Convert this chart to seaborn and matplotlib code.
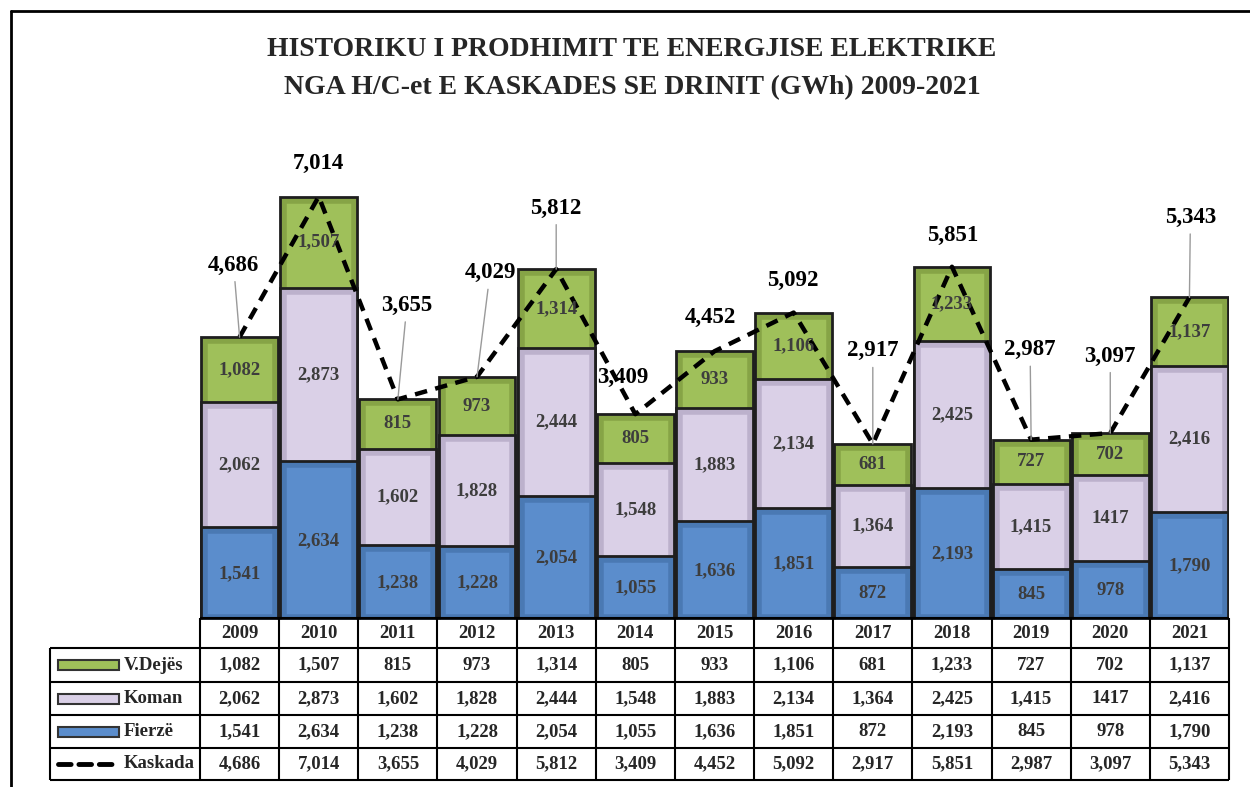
import matplotlib
matplotlib.use("Agg")
import matplotlib.pyplot as plt
from matplotlib import transforms
from matplotlib.lines import Line2D
from matplotlib.patches import Rectangle
import numpy as np
import pandas as pd
import seaborn as sns

# data (GWh)
years = ["2009", "2010", "2011", "2012", "2013", "2014", "2015",
         "2016", "2017", "2018", "2019", "2020", "2021"]
v_dejes = [1082, 1507, 815, 973, 1314, 805, 933, 1106, 681, 1233, 727, 702, 1137]
koman = [2062, 2873, 1602, 1828, 2444, 1548, 1883, 2134, 1364, 2425, 1415, 1417, 2416]
fierze = [1541, 2634, 1238, 1228, 2054, 1055, 1636, 1851, 872, 2193, 845, 978, 1790]
kaskada = [4686, 7014, 3655, 4029, 5812, 3409, 4452, 5092, 2917, 5851, 2987, 3097, 5343]

# labels as printed (2020 Koman has no thousands separator in the source)
v_dejes_lbl = [f"{v:,}" for v in v_dejes]
koman_lbl = [f"{v:,}" for v in koman]
koman_lbl[11] = "1417"
fierze_lbl = [f"{v:,}" for v in fierze]
kaskada_lbl = [f"{v:,}" for v in kaskada]

# where the total labels sit relative to their point (pixels)
total_offsets = [(-6, 72), (0, 33), (9, 94), (13, 104), (0, 61), (-13, 37), (-4, 34),
                 (-1, 32), (0, 93), (1, 31), (-1, 90), (0, 77), (1, 80)]

GREEN, LILAC, BLUE = "#9fc05a", "#dad0e7", "#5b8dcc"
BANDS = {GREEN: "#86a446", LILAC: "#bcb1cc", BLUE: "#4a79b3"}
EDGE = "#1e1e1e"

sns.set_style("white")
plt.rcParams["font.family"] = ["Liberation Serif", "DejaVu Serif"]
plt.rcParams["font.weight"] = "bold"

W, H = 1250, 787
fig = plt.figure(figsize=(W / 100, H / 100), dpi=100)
ax = fig.add_axes([200 / W, 1 - 620 / H, 1029 / W, 483 / H])


def fx(px):
    return px / W


def fy(py):
    return 1 - py / H


df = pd.DataFrame({"year": years, "fierze": fierze, "koman": koman, "v_dejes": v_dejes})
df["lower2"] = df["fierze"] + df["koman"]
df["top"] = df["lower2"] + df["v_dejes"]

# stacked bars drawn back to front (cumulative heights overlap)
for col, color in [("top", GREEN), ("lower2", LILAC), ("fierze", BLUE)]:
    n0 = len(ax.patches)
    sns.barplot(data=df, x="year", y=col, color=color, saturation=1, width=0.97,
                edgecolor=BANDS[color], linewidth=9, ax=ax)
    for p in ax.patches[n0:]:
        p.set_clip_path(p)
    sns.barplot(data=df, x="year", y=col, color=EDGE, fill=False, width=0.97,
                linewidth=2, ax=ax)

# segment labels
for i in range(len(years)):
    for base, val, lbl in [(0, fierze[i], fierze_lbl[i]),
                           (fierze[i], koman[i], koman_lbl[i]),
                           (fierze[i] + koman[i], v_dejes[i], v_dejes_lbl[i])]:
        ax.text(i, base + val / 2, lbl, ha="center", va="center",
                fontsize=13.5, color="#3d3d3d", fontweight="bold")

# Kaskada total line
sns.lineplot(x=years, y=kaskada, color="black", linewidth=3.2, ax=ax,
             dashes=False, sort=False)
ax.lines[-1].set_dashes((2.8, 1.9))

for i, (lbl, off) in enumerate(zip(kaskada_lbl, total_offsets)):
    arrow = None
    if off[1] > 50:
        arrow = dict(arrowstyle="-", color="#9a9a9a", lw=1, shrinkA=2, shrinkB=0)
    ax.annotate(lbl, xy=(i, kaskada[i]), xytext=(off[0], off[1]),
                textcoords="offset pixels", ha="center", va="center",
                fontsize=16.5, fontweight="bold", color="black",
                arrowprops=arrow)

ax.set_xlim(-0.5, len(years) - 0.5)
ax.set_ylim(0, 8000)
ax.set_axis_off()

# title
fig.text(632 / W, fy(50), "HISTORIKU I PRODHIMIT TE ENERGJISE ELEKTRIKE",
         ha="center", va="center", fontsize=20, fontweight="bold")
fig.text(632 / W, fy(88), "NGA H/C-et E KASKADES SE DRINIT (GWh) 2009-2021",
         ha="center", va="center", fontsize=20, fontweight="bold")

# data table under the bars
tx = transforms.blended_transform_factory(ax.transData, fig.transFigure)
row_edges = [618, 648, 682, 715, 748, 780]
row_centers = [(a + b) / 2 for a, b in zip(row_edges[:-1], row_edges[1:])]
line_kw = dict(color="black", lw=1.5, solid_capstyle="butt")

fig.add_artist(Line2D([fx(200), fx(1229)], [fy(618), fy(618)], **line_kw))
for y in row_edges[1:]:
    fig.add_artist(Line2D([fx(50), fx(1229)], [fy(y), fy(y)], **line_kw))
fig.add_artist(Line2D([fx(50), fx(50)], [fy(648), fy(780)], **line_kw))
for i in range(len(years) + 1):
    fig.add_artist(Line2D([i - 0.5, i - 0.5], [fy(618), fy(780)],
                          transform=tx, **line_kw))

rows = [years, v_dejes_lbl, koman_lbl, fierze_lbl, kaskada_lbl]
for r, vals in enumerate(rows):
    for i, v in enumerate(vals):
        fig.text(i, fy(row_centers[r]), v, transform=tx, ha="center", va="center",
                 fontsize=13.5, fontweight="bold")

names = ["V.Dejës", "Koman", "Fierzë", "Kaskada"]
for r, (name, color) in enumerate(zip(names, [GREEN, LILAC, BLUE, None]), start=1):
    yc = row_centers[r]
    if color:
        fig.add_artist(Rectangle((fx(58), fy(yc + 5)), fx(119) - fx(58), 10 / H,
                                 transform=fig.transFigure, facecolor=color,
                                 edgecolor="#333333", lw=1.5))
    else:
        fig.add_artist(Line2D([fx(58), fx(117)], [fy(yc), fy(yc)], color="black",
                              lw=3.5, dashes=(2.6, 1.6), dash_capstyle="round"))
    fig.text(fx(124), fy(yc), name, ha="left", va="center",
             fontsize=13.5, fontweight="bold")

# outer chart frame (only top and left visible in the crop)
fig.add_artist(Line2D([fx(11), 1], [fy(11), fy(11)], color="black", lw=2))
fig.add_artist(Line2D([fx(11), fx(11)], [fy(11), 0], color="black", lw=2))

fig.savefig("out.png", dpi=100)
